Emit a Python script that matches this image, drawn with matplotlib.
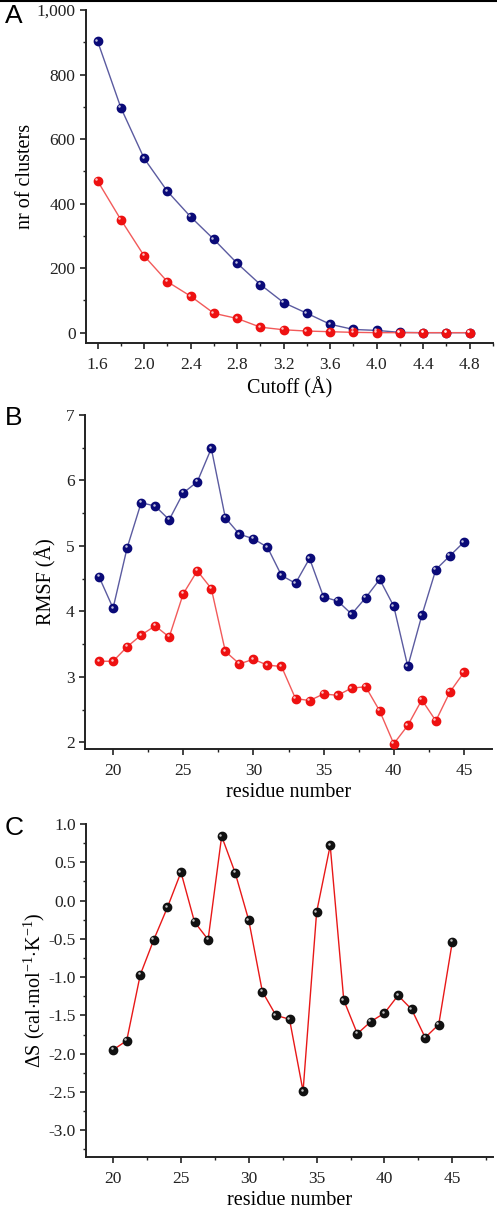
import matplotlib
matplotlib.use('Agg')
import matplotlib.pyplot as plt
import matplotlib.transforms as mtransforms
from matplotlib.lines import Line2D
from matplotlib.ticker import MultipleLocator, FuncFormatter

# Panel A: number of clusters vs cutoff
cutoff = [1.6, 1.8, 2.0, 2.2, 2.4, 2.6, 2.8, 3.0, 3.2, 3.4, 3.6, 3.8, 4.0, 4.2, 4.4, 4.6, 4.8]
clusters_blue = [903, 697, 540, 438, 359, 289, 215, 149, 93, 60, 26, 10, 7, 1, 0, 0, 0]
clusters_red = [470, 350, 238, 158, 113, 60, 44, 17, 9, 5, 3, 1, 0, 0, 0, 0, 0]

# Panel B: RMSF per residue
res_b = list(range(19, 46))
rmsf_blue = [4.53, 4.05, 4.97, 5.66, 5.61, 5.40, 5.81, 5.98, 6.49, 5.43, 5.18, 5.11, 4.98,
             4.55, 4.43, 4.81, 4.22, 4.16, 3.96, 4.21, 4.49, 4.08, 3.16, 3.94, 4.64, 4.85, 5.06]
rmsf_red = [3.24, 3.24, 3.46, 3.64, 3.78, 3.61, 4.27, 4.62, 4.35, 3.39, 3.20, 3.27, 3.18,
            3.16, 2.67, 2.64, 2.74, 2.72, 2.83, 2.85, 2.48, 1.98, 2.26, 2.65, 2.33, 2.77, 3.07]

# Panel C: entropy change per residue
res_c = list(range(20, 46))
dS = [-1.95, -1.83, -0.97, -0.51, -0.09, 0.37, -0.28, -0.51, 0.84, 0.36, -0.26, -1.19, -1.50,
      -1.55, -2.49, -0.15, 0.72, -1.30, -1.74, -1.58, -1.47, -1.24, -1.42, -1.79, -1.62, -0.54]

plt.rcParams['font.family'] = 'Liberation Serif'
plt.rcParams['mathtext.fontset'] = 'custom'
plt.rcParams['mathtext.rm'] = 'Liberation Serif'

fig = plt.figure(figsize=(4.97, 12.12), dpi=100)
W, H = 497, 1212


def make_ax(left, top, right, bottom):
    return fig.add_axes([left / W, 1 - bottom / H, (right - left) / W, (bottom - top) / H])


def style(ax):
    for s in ['top', 'right']:
        ax.spines[s].set_visible(False)
    for s in ['left', 'bottom']:
        ax.spines[s].set_linewidth(1.4)
        ax.spines[s].set_color('#222222')
    ax.tick_params(which='major', direction='out', length=4, width=1.2, labelsize=12.5, colors='#222222')
    ax.tick_params(which='minor', direction='out', length=2.5, width=1.0, colors='#222222')
    ax.tick_params(axis='x', pad=6)


def sphere_plot(ax, x, y, line_color, dot_color, lw=1.0):
    ax.plot(x, y, color=line_color, lw=lw, zorder=2)
    ax.plot(x, y, ls='none', marker='o', ms=6.0, mfc=dot_color, mec=dot_color, zorder=3)
    shift = ax.transData + mtransforms.ScaledTranslation(-1.1 / 72, 1.1 / 72, fig.dpi_scale_trans)
    ax.plot(x, y, ls='none', marker='o', ms=1.8, mfc='white', mec='none', alpha=0.75,
            transform=shift, zorder=4)


# ---- A ----
axA = make_ax(86, 10, 493, 343)
sphere_plot(axA, cutoff, clusters_blue, '#5b5ba0', '#0a0a78')
sphere_plot(axA, cutoff, clusters_red, '#f25a5a', '#ee1111')
axA.set_xlim(1.5, 5.0)
axA.set_ylim(-32, 1000)
axA.xaxis.set_major_locator(MultipleLocator(0.4))
axA.xaxis.set_minor_locator(MultipleLocator(0.2))
axA.yaxis.set_major_locator(MultipleLocator(200))
axA.yaxis.set_minor_locator(MultipleLocator(100))
axA.yaxis.set_major_formatter(FuncFormatter(lambda v, p: '{:,}'.format(int(v))))
axA.xaxis.set_major_formatter(FuncFormatter(lambda v, p: '{:.1f}'.format(v)))
style(axA)
axA.set_xlabel('Cutoff (Å)', fontsize=14.5, labelpad=3)
axA.set_ylabel('nr of clusters', fontsize=14.5, labelpad=1)

# ---- B ----
axB = make_ax(85, 415, 492, 749)
sphere_plot(axB, res_b, rmsf_blue, '#5b5ba0', '#0a0a78')
sphere_plot(axB, res_b, rmsf_red, '#f25a5a', '#ee1111')
axB.set_xlim(18, 47)
axB.set_ylim(1.9, 7.0)
axB.xaxis.set_major_locator(MultipleLocator(5))
axB.xaxis.set_minor_locator(MultipleLocator(2.5))
axB.yaxis.set_major_locator(MultipleLocator(1))
axB.yaxis.set_minor_locator(MultipleLocator(0.5))
style(axB)
axB.set_xlabel('residue number', fontsize=14.5, labelpad=3)
axB.set_ylabel('RMSF (Å)', fontsize=14.5, labelpad=7)

# ---- C ----
axC = make_ax(86, 824, 493, 1157)
sphere_plot(axC, res_c, dS, '#e81818', '#111111')
axC.set_xlim(18, 48)
axC.set_ylim(-3.35, 1.0)
axC.xaxis.set_major_locator(MultipleLocator(5))
axC.xaxis.set_minor_locator(MultipleLocator(2.5))
axC.yaxis.set_major_locator(MultipleLocator(0.5))
axC.yaxis.set_minor_locator(MultipleLocator(0.25))
axC.yaxis.set_major_formatter(FuncFormatter(lambda v, p: '{:.1f}'.format(v)))
style(axC)
axC.set_xlabel('residue number', fontsize=14.5, labelpad=3)
axC.set_ylabel(r'$\Delta$S (cal$\mathrm{{\cdot}mol^{-1}{\cdot}K^{-1}}$)', fontsize=14.5, labelpad=1)

# panel letters
for letter, y in [('A', 16), ('B', 418), ('C', 828)]:
    fig.text(5 / W, 1 - y / H, letter, fontsize=19, family='Liberation Sans', va='center', ha='left')

# top border line
fig.add_artist(Line2D([0, 1], [0.9995, 0.9995], transform=fig.transFigure, color='black', lw=1.5))

fig.savefig('out.png', dpi=100)
